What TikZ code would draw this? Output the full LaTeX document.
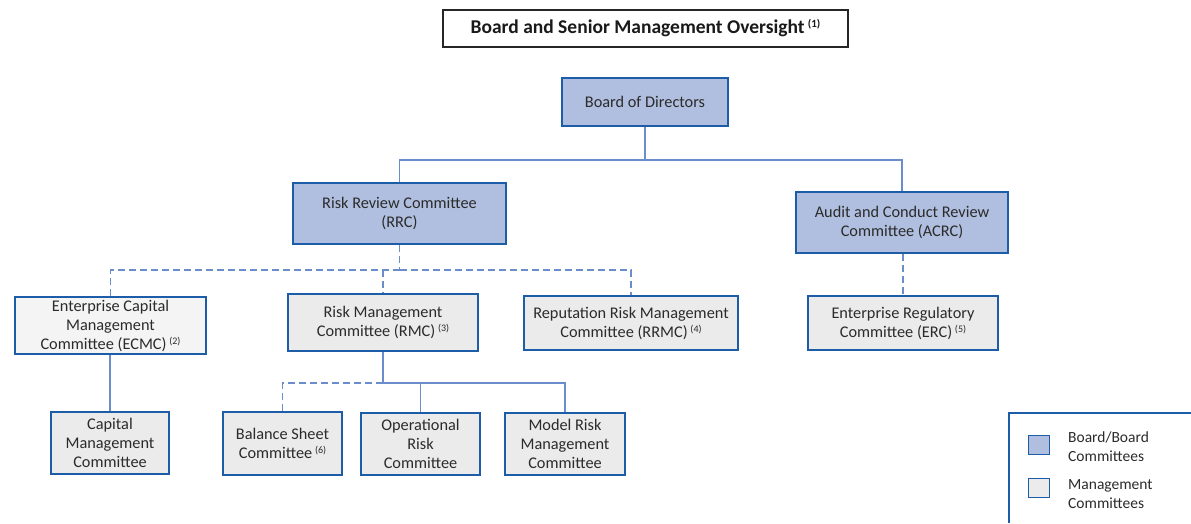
\documentclass[tikz,border=0pt]{standalone}
\usepackage{fontspec}
\setmainfont{Carlito}
\definecolor{boardfill}{HTML}{B0BFDF}
\definecolor{mgmtfill}{HTML}{EBEBEB}
\definecolor{ecmcfill}{HTML}{F4F4F4}
\definecolor{borderblue}{HTML}{1D5DA8}
\definecolor{linkblue}{HTML}{6B8DCB}
\definecolor{textgrey}{HTML}{2B2B2B}
\newcommand\fnref[1]{\,\raisebox{5pt}{\fontsize{10}{10}\selectfont(#1)}}
\newcommand\fnrefbig[1]{\,\raisebox{6pt}{\fontsize{11}{11}\selectfont(#1)}}
\tikzset{
  basebox/.style={draw=borderblue, line width=2.2pt, inner sep=0pt, align=center,
    text=textgrey, font=\fontsize{16.3}{19}\selectfont},
  boardbox/.style={basebox, fill=boardfill},
  mgmtbox/.style={basebox, fill=mgmtfill},
  link/.style={draw=linkblue, line width=1.5pt},
  dlink/.style={link, dash pattern=on 7pt off 4pt},
}
\begin{document}
\begin{tikzpicture}[x=1pt,y=-1pt]
\useasboundingbox (0,0) rectangle (1191,523);
\node[draw=black!85, line width=1.3pt, fill=white, minimum width=405pt, minimum height=37pt, inner sep=0pt,
  text=black!90, font=\fontsize{19.5}{22}\selectfont\bfseries] (title) at (645.5,28.5) {Board and Senior Management Oversight\fnrefbig{1}};
\node[boardbox, minimum width=166pt, minimum height=48pt] (bod) at (645,102) {Board of Directors};
\node[boardbox, minimum width=213pt, minimum height=61pt] (rrc) at (399.5,213.5) {Risk Review Committee\\(RRC)};
\node[boardbox, minimum width=212pt, minimum height=61pt] (acrc) at (902,222.5) {Audit and Conduct Review\\Committee (ACRC)};
\node[mgmtbox, fill=ecmcfill, minimum width=191pt, minimum height=57pt] (ecmc) at (110.5,325.5) {Enterprise Capital\\Management\\Committee (ECMC)\fnref{2}};
\node[mgmtbox, minimum width=190pt, minimum height=57pt] (rmc) at (383,322.5) {Risk Management\\Committee (RMC)\fnref{3}};
\node[mgmtbox, minimum width=214pt, minimum height=54pt] (rrmc) at (631,323) {Reputation Risk Management\\Committee (RRMC)\fnref{4}};
\node[mgmtbox, minimum width=190pt, minimum height=54pt] (erc) at (903,323) {Enterprise Regulatory\\Committee (ERC)\fnref{5}};
\node[mgmtbox, minimum width=118pt, minimum height=62pt] (cap) at (110,443) {Capital\\Management\\Committee};
\node[mgmtbox, minimum width=119pt, minimum height=63pt] (bsc) at (282.5,443.5) {Balance Sheet\\Committee\fnref{6}};
\node[mgmtbox, minimum width=119pt, minimum height=62pt] (orc) at (420.5,444) {Operational\\Risk\\Committee};
\node[mgmtbox, minimum width=120pt, minimum height=62pt] (mrm) at (565,444) {Model Risk\\Management\\Committee};
% connectors
\draw[link] (bod.south) -- ++(0,33) coordinate (b1);
\draw[link] (b1) -| (rrc.north);
\draw[link] (b1) -| (acrc.north);
\draw[dlink] (rrc.south) -- ++(0,25) coordinate (r1);
\draw[dlink] (r1) -| (ecmc.north);
\draw[dlink] (r1) -| (rrmc.north);
\draw[dlink] (rmc.north |- r1) -- (rmc.north);
\draw[link] (cap.north |- ecmc.south) -- (cap.north);
\draw[link] (rmc.south) -- ++(0,31) coordinate (m1);
\draw[link] (m1) -| (orc.north);
\draw[link] (m1) -| (mrm.north);
\draw[dlink] (m1) -| (bsc.north);
\draw[dlink] (erc.north |- acrc.south) -- (erc.north);
% legend
\draw[draw=borderblue, line width=1.3pt] (1191,413) -- (1009,413) -- (1009,523);
\node[boardbox, line width=1.8pt, minimum width=21pt, minimum height=19pt] (leg1) at (1039,445) {};
\node[mgmtbox, line width=1.8pt, minimum width=21pt, minimum height=19pt] (leg2) at (1039,488) {};
\node[anchor=west, align=left, text=textgrey, font=\fontsize{15.5}{19}\selectfont, inner sep=0pt] (leg1t) at (1068,447) {Board/Board\\Committees};
\node[anchor=west, align=left, text=textgrey, font=\fontsize{15.5}{19}\selectfont, inner sep=0pt] (leg2t) at (1068,494) {Management\\Committees};
\end{tikzpicture}
\end{document}
